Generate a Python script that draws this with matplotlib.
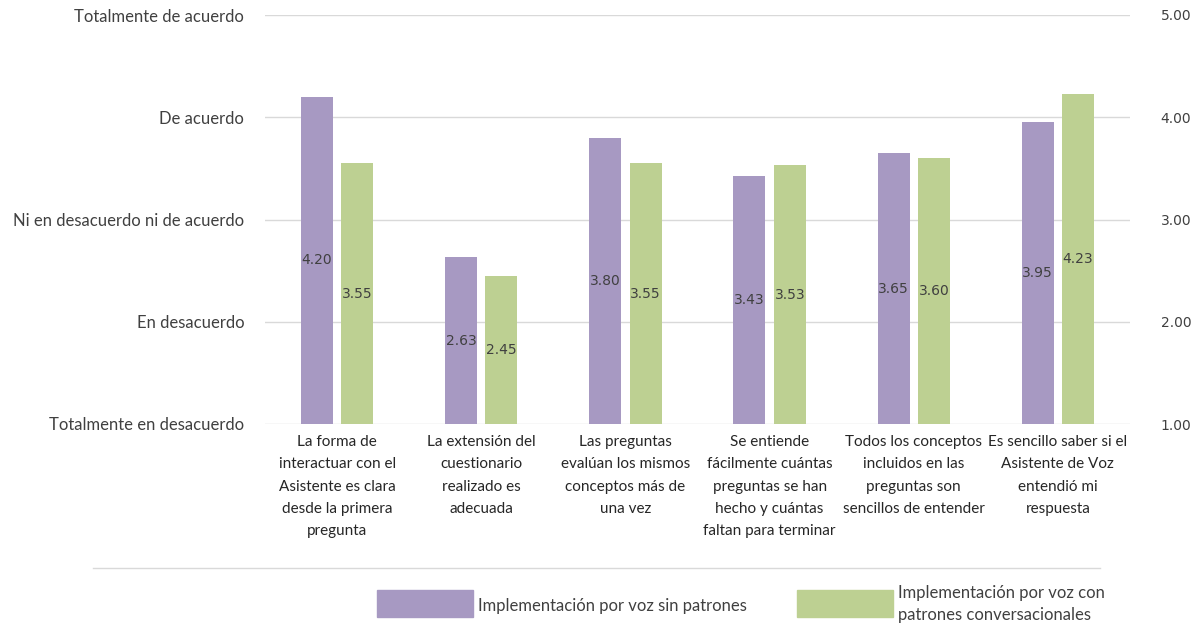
import matplotlib
matplotlib.use("Agg")
import matplotlib.pyplot as plt
from matplotlib.patches import Rectangle
from matplotlib.lines import Line2D
import numpy as np

categories = [
    "La forma de\ninteractuar con el\nAsistente es clara\ndesde la primera\npregunta",
    "La extensión del\ncuestionario\nrealizado es\nadecuada",
    "Las preguntas\nevalúan los mismos\nconceptos más de\nuna vez",
    "Se entiende\nfácilmente cuántas\npreguntas se han\nhecho y cuántas\nfaltan para terminar",
    "Todos los conceptos\nincluidos en las\npreguntas son\nsencillos de entender",
    "Es sencillo saber si el\nAsistente de Voz\nentendió mi\nrespuesta",
]
series_names = ["Implementación por voz sin patrones",
                "Implementación por voz con\npatrones conversacionales"]
sin_patrones = [4.20, 2.63, 3.80, 3.43, 3.65, 3.95]
con_patrones = [3.55, 2.45, 3.55, 3.53, 3.60, 4.23]
left_tick_labels = ["Totalmente en desacuerdo", "En desacuerdo",
                    "Ni en desacuerdo ni de acuerdo", "De acuerdo",
                    "Totalmente de acuerdo"]
right_tick_values = [1, 2, 3, 4, 5]

purple = "#A799C2"
green = "#BDD092"
text_col = "#404040"
grid_col = "#D9D9D9"
font = "Lato"

W, H = 1195, 625
fig = plt.figure(figsize=(W / 100, H / 100), dpi=100)
ax = fig.add_axes([265 / W, 1 - 424 / H, (1130 - 265) / W, (424 - 15) / H])

x = np.arange(len(categories))
bw = 0.222
off = 0.14
base = 1.0
b1 = ax.bar(x - off, np.array(sin_patrones) - base, bw, bottom=base, color=purple, zorder=3)
b2 = ax.bar(x + off, np.array(con_patrones) - base, bw, bottom=base, color=green, zorder=3)
ax.bar_label(b1, labels=[f"{v:.2f}" for v in sin_patrones], label_type="center",
             color=text_col, fontsize=10, family="DejaVu Sans")
ax.bar_label(b2, labels=[f"{v:.2f}" for v in con_patrones], label_type="center",
             color=text_col, fontsize=10, family="DejaVu Sans")

ax.set_xlim(-0.5, len(categories) - 0.5)
ax.set_ylim(1, 5)
ax.set_yticks(right_tick_values)
ax.set_yticklabels(left_tick_labels, fontsize=12, color=text_col, family=font)
ax.tick_params(axis="y", length=0, pad=15)
ax.set_xticks(x)
ax.set_xticklabels(categories, fontsize=11, color="#262626", family=font, linespacing=1.75)
ax.tick_params(axis="x", length=0, pad=8)
ax.grid(axis="y", color=grid_col, linewidth=1, zorder=0)
for s in ax.spines.values():
    s.set_visible(False)

ax2 = ax.twinx()
ax2.set_ylim(1, 5)
ax2.set_yticks(right_tick_values)
ax2.set_yticklabels([f"{v:.2f}" for v in right_tick_values], fontsize=10,
                    color=text_col, family="DejaVu Sans")
ax2.tick_params(axis="y", length=0, pad=22)
for s in ax2.spines.values():
    s.set_visible(False)

# separator line
fig.add_artist(Line2D([93 / W, 1100 / W], [1 - 568 / H, 1 - 568 / H],
                      color=grid_col, linewidth=1))

# legend
leg_items = [(377, purple, series_names[0], 606), (797, green, series_names[1], 604)]
for lx, col, name, ty in leg_items:
    fig.add_artist(Rectangle((lx / W, 1 - 617 / H), 96 / W, 27 / H,
                             transform=fig.transFigure, color=col))
    fig.text((lx + 101) / W, 1 - ty / H, name, fontsize=12, color=text_col,
             family=font, va="center", ha="left", linespacing=1.45)

fig.savefig("out.png", dpi=100, facecolor="white")
